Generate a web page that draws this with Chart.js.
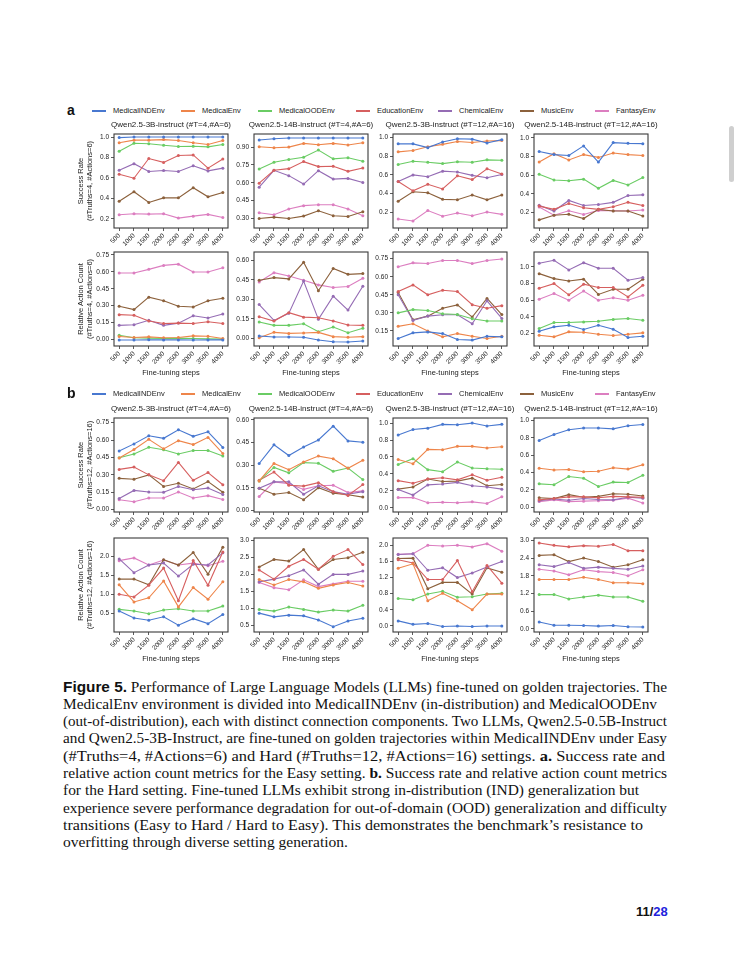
<!DOCTYPE html>
<html><head><meta charset="utf-8">
<script src="https://cdn.jsdelivr.net/npm/chart.js@4.4.1/dist/chart.umd.min.js"></script>
<style>
html,body{margin:0;padding:0;background:#fff;}
body{width:736px;height:956px;position:relative;overflow:hidden;font-family:"Liberation Sans",Arial,sans-serif;color:#1a1a1a;}
.abs{position:absolute;white-space:nowrap;}
.cap{position:absolute;left:63px;white-space:nowrap;font-family:"Liberation Serif","Times New Roman",serif;font-size:14.5px;line-height:17px;color:#111;transform-origin:0 50%;}
.cap .fig{font-family:"Liberation Sans",Arial,sans-serif;font-weight:bold;}
.scroll{position:absolute;left:729px;top:126px;width:5px;height:56px;border-radius:3px;background:#cfcfcf;}
</style>
</head><body>
<div class="scroll"></div>
<script>
// ---------------- data ----------------
const steps = [500, 1000, 1500, 2000, 2500, 3000, 3500, 4000];
const envNames = ['MedicalINDEnv','MedicalEnv','MedicalOODEnv','EducationEnv','ChemicalEnv','MusicEnv','FantasyEnv'];
const envColors = ['#4878d0','#ee854a','#6acc64','#d65f5f','#956cb4','#8c613c','#dc7ec0'];
const panelTitles = ['Qwen2.5-3B-instruct (#T=4,#A=6)','Qwen2.5-14B-instruct (#T=4,#A=6)','Qwen2.5-3B-instruct (#T=12,#A=16)','Qwen2.5-14B-instruct (#T=12,#A=16)'];
const yTitlesA = [['Success Rate','(#Truths=4, #Actions=6)'],['Relative Action Count','(#Truths=4, #Actions=6)']];
const yTitlesB = [['Success Rate','(#Truths=12, #Actions=16)'],['Relative Action Count','(#Truths=12, #Actions=16)']];
const xTitle = 'Fine-tuning steps';

// rows: MedicalINDEnv, MedicalEnv, MedicalOODEnv, EducationEnv, ChemicalEnv, MusicEnv, FantasyEnv
const aSuccess3B = [
  [0.995,1.0,1.0,1.0,1.0,1.0,1.0,1.0],
  [0.944,0.97,0.97,0.975,0.967,0.944,0.927,0.967],
  [0.861,0.94,0.934,0.92,0.907,0.91,0.904,0.927],
  [0.636,0.597,0.79,0.752,0.82,0.825,0.696,0.785],
  [0.676,0.739,0.663,0.673,0.663,0.719,0.669,0.696],
  [0.372,0.465,0.36,0.405,0.405,0.504,0.415,0.458],
  [0.24,0.25,0.246,0.25,0.207,0.226,0.243,0.213]];
const aSuccess14B = [
  [0.959,0.97,0.976,0.976,0.976,0.976,0.976,0.976],
  [0.903,0.894,0.90,0.931,0.92,0.931,0.917,0.937],
  [0.716,0.773,0.795,0.815,0.875,0.801,0.81,0.781],
  [0.597,0.705,0.719,0.778,0.736,0.739,0.696,0.725],
  [0.563,0.705,0.66,0.589,0.702,0.631,0.637,0.603],
  [0.30,0.311,0.30,0.32,0.365,0.323,0.317,0.357],
  [0.348,0.331,0.379,0.408,0.416,0.416,0.379,0.323]];
const aSuccess3BHard = [
  [0.93,0.93,0.89,0.95,0.985,0.98,0.94,0.975],
  [0.845,0.86,0.90,0.925,0.955,0.945,0.96,0.965],
  [0.71,0.745,0.735,0.72,0.74,0.735,0.76,0.755],
  [0.53,0.43,0.50,0.45,0.59,0.55,0.665,0.61],
  [0.53,0.60,0.58,0.64,0.63,0.595,0.57,0.605],
  [0.32,0.42,0.41,0.34,0.335,0.385,0.335,0.385],
  [0.13,0.11,0.22,0.16,0.195,0.165,0.205,0.18]];
const aSuccess14BHard = [
  [0.854,0.82,0.81,0.913,0.74,0.948,0.94,0.937],
  [0.74,0.83,0.763,0.82,0.79,0.837,0.82,0.81],
  [0.61,0.548,0.54,0.558,0.46,0.544,0.496,0.575],
  [0.27,0.235,0.297,0.252,0.235,0.263,0.31,0.277],
  [0.28,0.217,0.33,0.277,0.287,0.31,0.383,0.39],
  [0.123,0.172,0.183,0.137,0.235,0.217,0.217,0.165],
  [0.26,0.172,0.22,0.18,0.224,0.22,0.217,0.228]];
const aAction3B = [
  [-0.005,-0.005,-0.003,-0.004,-0.004,-0.005,-0.004,-0.004],
  [0.026,0.017,0.023,0.015,0.017,0.032,0.029,0.009],
  [0.038,0.015,0.012,0.009,0.012,0.009,0.006,0.003],
  [0.22,0.215,0.163,0.142,0.145,0.142,0.157,0.142],
  [0.125,0.131,0.17,0.125,0.145,0.21,0.19,0.226],
  [0.294,0.265,0.375,0.343,0.294,0.288,0.343,0.366],
  [0.59,0.59,0.622,0.657,0.668,0.599,0.599,0.637]];
const aAction14B = [
  [0.018,0.01,0.01,0.008,-0.013,-0.026,-0.028,-0.02],
  [0.005,0.046,0.038,0.041,0.046,0.013,0.008,0.013],
  [0.125,0.10,0.10,0.112,0.051,0.087,0.043,0.077],
  [0.166,0.133,0.197,0.163,0.158,0.133,0.102,0.10],
  [0.26,0.138,0.192,0.44,0.146,0.324,0.217,0.40],
  [0.447,0.467,0.457,0.585,0.366,0.538,0.492,0.498],
  [0.434,0.505,0.48,0.447,0.411,0.391,0.398,0.462]];
const aAction3BHard = [
  [0.087,0.134,0.142,0.128,0.079,0.074,0.106,0.101],
  [0.188,0.21,0.15,0.101,0.128,0.106,0.087,0.106],
  [0.30,0.327,0.319,0.292,0.286,0.251,0.232,0.232],
  [0.477,0.532,0.45,0.488,0.477,0.368,0.338,0.36],
  [0.45,0.237,0.273,0.284,0.284,0.21,0.40,0.254],
  [0.469,0.243,0.273,0.338,0.366,0.265,0.42,0.286],
  [0.682,0.715,0.709,0.734,0.734,0.709,0.734,0.747]];
const aAction14BHard = [
  [0.228,0.28,0.30,0.248,0.30,0.252,0.152,0.168],
  [0.18,0.16,0.22,0.216,0.192,0.176,0.192,0.208],
  [0.26,0.333,0.333,0.34,0.347,0.37,0.38,0.36],
  [0.745,0.80,0.665,0.793,0.753,0.753,0.64,0.78],
  [1.044,1.08,0.964,1.052,0.984,0.984,0.84,0.873],
  [0.92,0.86,0.832,0.853,0.67,0.733,0.733,0.853],
  [0.612,0.68,0.60,0.71,0.60,0.63,0.60,0.66]];
const bSuccess3B = [
  [0.505,0.567,0.637,0.615,0.688,0.632,0.671,0.536],
  [0.445,0.518,0.606,0.524,0.595,0.561,0.623,0.485],
  [0.448,0.48,0.538,0.516,0.48,0.51,0.51,0.462],
  [0.347,0.367,0.30,0.25,0.407,0.253,0.32,0.215],
  [0.096,0.166,0.152,0.15,0.20,0.172,0.186,0.13],
  [0.27,0.262,0.30,0.20,0.228,0.178,0.242,0.15],
  [0.085,0.068,0.101,0.101,0.152,0.101,0.121,0.087]];
const bSuccess14B = [
  [0.311,0.435,0.364,0.42,0.467,0.559,0.461,0.452],
  [0.195,0.311,0.27,0.321,0.36,0.343,0.279,0.332],
  [0.195,0.285,0.249,0.317,0.313,0.259,0.281,0.204],
  [0.20,0.254,0.167,0.161,0.184,0.124,0.099,0.171],
  [0.146,0.189,0.189,0.107,0.163,0.124,0.107,0.124],
  [0.146,0.107,0.118,0.071,0.15,0.114,0.103,0.088],
  [0.092,0.189,0.177,0.139,0.163,0.167,0.118,0.129]];
const bSuccess3BHard = [
  [0.86,0.925,0.94,0.985,0.98,1.0,0.965,0.985],
  [0.57,0.52,0.69,0.685,0.725,0.725,0.705,0.72],
  [0.51,0.58,0.45,0.425,0.54,0.47,0.46,0.455],
  [0.32,0.29,0.34,0.355,0.33,0.39,0.325,0.36],
  [0.215,0.15,0.27,0.28,0.30,0.26,0.245,0.22],
  [0.22,0.245,0.34,0.31,0.315,0.35,0.26,0.275],
  [0.12,0.12,0.06,0.065,0.06,0.07,0.05,0.13]];
const bSuccess14BHard = [
  [0.77,0.84,0.895,0.915,0.915,0.905,0.94,0.955],
  [0.45,0.43,0.435,0.41,0.415,0.455,0.44,0.49],
  [0.27,0.26,0.355,0.335,0.24,0.29,0.285,0.37],
  [0.085,0.10,0.12,0.12,0.11,0.125,0.12,0.115],
  [0.075,0.095,0.08,0.10,0.09,0.085,0.115,0.105],
  [0.11,0.10,0.145,0.115,0.125,0.155,0.15,0.13],
  [0.065,0.085,0.065,0.07,0.075,0.08,0.105,0.05]];
const bAction3B = [
  [0.56,0.38,0.32,0.41,0.19,0.36,0.23,0.47],
  [1.25,0.80,0.91,1.35,0.67,1.18,0.87,1.33],
  [0.605,0.56,0.49,0.59,0.62,0.56,0.56,0.69],
  [1.0,0.93,1.24,1.69,0.83,1.89,1.24,2.11],
  [1.93,1.57,1.77,1.82,1.48,1.79,1.77,2.09],
  [1.40,1.40,1.25,1.91,1.77,2.10,1.53,2.24],
  [1.885,1.956,1.77,1.90,1.77,1.82,1.75,1.87]];
const bAction14B = [
  [0.86,0.75,0.80,0.78,0.66,0.46,0.63,0.71],
  [1.85,1.69,1.85,1.78,1.59,1.69,1.76,1.66],
  [0.97,0.92,1.04,0.97,0.89,0.95,0.92,1.09],
  [2.13,1.86,2.24,2.44,2.15,2.53,2.73,2.29],
  [1.78,1.86,1.96,2.13,1.71,2.0,2.0,2.10],
  [2.22,2.44,2.39,2.73,2.15,2.44,2.49,2.65],
  [1.76,1.61,1.55,1.84,1.64,1.72,1.80,1.80]];
const bAction3BHard = [
  [0.125,0.04,0.06,-0.015,0.0,-0.015,0.0,0.0],
  [1.43,1.54,0.625,0.81,0.625,0.40,0.79,0.79],
  [0.68,0.65,0.79,0.86,0.71,0.725,0.79,0.81],
  [1.64,1.56,1.15,1.15,1.62,0.85,1.50,1.06],
  [1.77,1.79,1.38,1.44,1.20,1.31,1.46,1.60],
  [1.67,1.68,0.92,1.08,1.08,0.79,1.44,1.33],
  [1.775,1.79,2.0,1.98,2.0,1.96,2.04,1.85]];
const bAction14BHard = [
  [0.23,0.12,0.12,0.11,0.09,0.11,0.07,0.06],
  [1.67,1.67,1.67,1.75,1.67,1.56,1.56,1.53],
  [1.16,1.16,1.01,1.08,1.14,1.08,1.08,0.93],
  [2.91,2.83,2.78,2.82,2.80,2.86,2.65,2.65],
  [2.17,2.11,2.25,2.05,2.09,2.05,2.02,2.13],
  [2.49,2.51,2.28,2.40,2.28,2.09,2.17,2.34],
  [2.02,1.96,1.83,2.0,1.94,1.91,1.80,2.0]];

// y tick labels per panel
const ticksSR10 = ['0.2','0.4','0.6','0.8','1.0'];
const ticksSR090 = ['0.30','0.45','0.60','0.75','0.90'];
const ticksAct075 = ['0.00','0.15','0.30','0.45','0.60','0.75'];
const ticksAct060 = ['0.00','0.15','0.30','0.45','0.60'];
const ticksAct15 = ['0.15','0.30','0.45','0.60','0.75'];
const ticksAct10 = ['0.2','0.4','0.6','0.8','1.0'];
const ticksSR0_10 = ['0.0','0.2','0.4','0.6','0.8','1.0'];
const ticksB20 = ['0.5','1.0','1.5','2.0'];
const ticksB30 = ['0.5','1.0','1.5','2.0','2.5','3.0'];
const ticksB20b = ['0.0','0.4','0.8','1.2','1.6','2.0'];
const ticksB30b = ['0.0','0.6','1.2','1.8','2.4','3.0'];

// ---------------- layout ----------------
const colLeft = [114, 254, 393, 534];
const boxW = 114, boxH = 94;
const rowTop = [134, 252, 418, 538];
const YW = 32, PT = 6, PR = 8, XH = 26;
const tickFont = {family:'"Liberation Sans", Arial, sans-serif', size:6.5};

const panels = [
  {row:0,col:0,data:aSuccess3B,ticks:ticksSR10,min:0.11,max:1.03},
  {row:0,col:1,data:aSuccess14B,ticks:ticksSR090,min:0.22,max:1.01},
  {row:0,col:2,data:aSuccess3BHard,ticks:ticksSR10,min:0.035,max:1.035},
  {row:0,col:3,data:aSuccess14BHard,ticks:ticksSR10,min:0.036,max:1.04},
  {row:1,col:0,data:aAction3B,ticks:ticksAct075,min:-0.058,max:0.776},
  {row:1,col:1,data:aAction14B,ticks:ticksAct060,min:-0.059,max:0.664},
  {row:1,col:2,data:aAction3BHard,ticks:ticksAct15,min:0.025,max:0.805},
  {row:1,col:3,data:aAction14BHard,ticks:ticksAct10,min:0.05,max:1.18},
  {row:2,col:0,data:bSuccess3B,ticks:ticksAct075,min:-0.02,max:0.79},
  {row:2,col:1,data:bSuccess14B,ticks:ticksAct060,min:-0.011,max:0.613},
  {row:2,col:2,data:bSuccess3BHard,ticks:ticksSR0_10,min:-0.05,max:1.06},
  {row:2,col:3,data:bSuccess14BHard,ticks:ticksSR0_10,min:-0.055,max:1.03},
  {row:3,col:0,data:bAction3B,ticks:ticksB20,min:0.01,max:2.48},
  {row:3,col:1,data:bAction14B,ticks:ticksB30,min:0.305,max:3.07},
  {row:3,col:2,data:bAction3BHard,ticks:ticksB20b,min:-0.15,max:2.18},
  {row:3,col:3,data:bAction14BHard,ticks:ticksB30b,min:-0.11,max:3.08}
];

function addText(txt, css){
  const d = document.createElement('div');
  d.className = 'abs';
  d.textContent = txt;
  Object.assign(d.style, css);
  document.body.appendChild(d);
  return d;
}

const boxPlugin = {
  id:'frame',
  afterDatasetsDraw(chart){
    const a = chart.chartArea, c = chart.ctx;
    c.save();
    c.strokeStyle = '#3a3a3a';
    c.lineWidth = 1.1;
    c.strokeRect(a.left, a.top, a.right - a.left, a.bottom - a.top);
    c.restore();
  }
};

panels.forEach(p => {
  const wrap = document.createElement('div');
  const W = YW + boxW + PR, H = PT + boxH + XH;
  Object.assign(wrap.style, {position:'absolute', left:(colLeft[p.col]-YW)+'px', top:(rowTop[p.row]-PT)+'px', width:W+'px', height:H+'px'});
  const cv = document.createElement('canvas');
  cv.width = W; cv.height = H;
  cv.style.width = W+'px'; cv.style.height = H+'px';
  wrap.appendChild(cv);
  document.body.appendChild(wrap);
  const dec = p.ticks[0].split('.')[1].length;
  const tickVals = p.ticks.map(Number);
  new Chart(cv.getContext('2d'), {
    type:'line',
    data:{datasets: p.data.map((vals,i) => ({
      label: envNames[i],
      data: steps.map((s,j) => ({x:s, y:vals[j]})),
      borderColor: envColors[i], backgroundColor: envColors[i],
      borderWidth: 1.1, pointRadius: 1.5, pointBorderWidth: 0, tension: 0
    }))},
    options:{
      responsive:false, animation:false, events:[], devicePixelRatio:1,
      layout:{padding:{top:PT, right:PR, left:0, bottom:0}},
      plugins:{legend:{display:false}, tooltip:{enabled:false}, title:{display:false}},
      scales:{
        x:{type:'linear', min:325, max:4175,
          afterBuildTicks: s => { s.ticks = steps.map(v => ({value:v})); },
          afterFit: s => { s.height = XH; },
          ticks:{autoSkip:false, minRotation:45, maxRotation:45, font:tickFont, color:'#222', padding:1, callback: v => String(v)},
          grid:{drawOnChartArea:false, drawTicks:true, tickLength:3, color:'#333', lineWidth:0.8},
          border:{display:false}},
        y:{min:p.min, max:p.max,
          afterBuildTicks: s => { s.ticks = tickVals.map(v => ({value:v})); },
          afterFit: s => { s.width = YW; },
          ticks:{font:tickFont, color:'#222', padding:2, callback: v => Number(v).toFixed(dec)},
          grid:{drawOnChartArea:false, drawTicks:true, tickLength:3, color:'#333', lineWidth:0.8},
          border:{display:false}}
      }
    },
    plugins:[boxPlugin]
  });
});

// section labels, legends, titles
const legendLineX = [92, 181, 258, 356, 438, 520, 595];
[[111,'a'],[394,'b']].forEach(([y,lab]) => {
  addText(lab, {left:'67px', top:(y-9)+'px', fontSize:'14px', fontWeight:'bold', lineHeight:'16px', color:'#111'});
  envNames.forEach((n,i) => {
    const ln = document.createElement('div');
    Object.assign(ln.style, {position:'absolute', left:legendLineX[i]+'px', top:(y-0.75)+'px', width:'14px', height:'1.5px', background:envColors[i]});
    document.body.appendChild(ln);
    addText(n, {left:(legendLineX[i]+21)+'px', top:(y-5)+'px', fontSize:'7.5px', lineHeight:'10px', color:'#222'});
  });
});
[[125],[409]].forEach(([y]) => {
  panelTitles.forEach((t,c) => {
    addText(t, {left:(colLeft[c]+boxW/2)+'px', top:(y-5)+'px', fontSize:'8px', lineHeight:'10px', color:'#222', transform:'translateX(-50%)'});
  });
});
// y titles
const yTitleAll = [yTitlesA[0], yTitlesA[1], yTitlesB[0], yTitlesB[1]];
rowTop.forEach((t,r) => {
  const d = document.createElement('div');
  d.className = 'abs';
  yTitleAll[r].forEach(s => { const l = document.createElement('div'); l.textContent = s; d.appendChild(l); });
  Object.assign(d.style, {left:'84.5px', top:(t+boxH/2)+'px', fontSize:'7.5px', lineHeight:'9px', textAlign:'center', color:'#222', transform:'translate(-50%,-50%) rotate(-90deg)'});
  document.body.appendChild(d);
});
// x titles
[373, 659].forEach(y => {
  colLeft.forEach(c => addText(xTitle, {left:(c+boxW/2)+'px', top:(y-5)+'px', fontSize:'7.5px', lineHeight:'10px', color:'#222', transform:'translateX(-50%)'}));
});

// caption
const capLines = [
  ['<span class="fig">Figure 5.</span> Performance of Large Language Models (LLMs) fine-tuned on golden trajectories. The', 667],
  ['MedicalEnv environment is divided into MedicalINDEnv (in-distribution) and MedicalOODEnv', 657],
  ['(out-of-distribution), each with distinct connection components. Two LLMs, Qwen2.5-0.5B-Instruct', 667],
  ['and Qwen2.5-3B-Instruct, are fine-tuned on golden trajectories within MedicalINDEnv under Easy', 667],
  ['(#Truths=4, #Actions=6) and Hard (#Truths=12, #Actions=16) settings. <b>a.</b> Success rate and', 665],
  ['relative action count metrics for the Easy setting. <b>b.</b> Success rate and relative action count metrics', 667],
  ['for the Hard setting. Fine-tuned LLMs exhibit strong in-distribution (IND) generalization but', 639],
  ['experience severe performance degradation for out-of-domain (OOD) generalization and difficulty', 667],
  ['transitions (Easy to Hard / Hard to Easy). This demonstrates the benchmark\u2019s resistance to', 643],
  ['overfitting through diverse setting generation.', 0]
];
const capEls = [];
let scSum = 0, scN = 0;
capLines.forEach(([html, end], i) => {
  const d = document.createElement('div');
  d.className = 'cap';
  d.innerHTML = html;
  d.style.top = (687 + i*17.3 - 8.5) + 'px';
  document.body.appendChild(d);
  const w = d.getBoundingClientRect().width;
  if (end) { const sc = (end - 63) / w; d.style.transform = 'scaleX(' + sc + ')'; scSum += sc; scN++; }
  capEls.push(d);
});
capEls[capEls.length-1].style.transform = 'scaleX(' + (scSum/scN) + ')';

// page number
const pn = document.createElement('div');
pn.className = 'abs';
pn.innerHTML = '11/<span style="color:#2222dd">28</span>';
Object.assign(pn.style, {left:'636px', top:'904px', fontSize:'13px', fontWeight:'bold', lineHeight:'16px', color:'#111'});
document.body.appendChild(pn);
</script>
</body></html>
